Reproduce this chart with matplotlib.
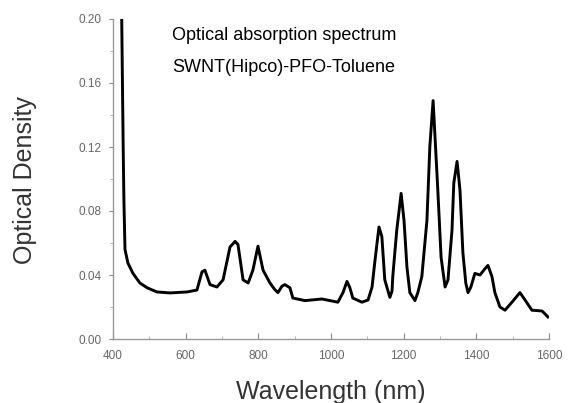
import numpy as np
from matplotlib import pyplot as plt
from matplotlib.ticker import MultipleLocator

plt.rcParams['font.family'] = ['Liberation Sans', 'DejaVu Sans']

# wavelength (nm) and optical density
wavelength = [424, 426, 428, 430, 433, 441, 455, 474, 494, 521, 557, 604, 631,
              645, 653, 667, 686, 703, 722, 736, 744, 758, 772, 785, 799, 813,
              832, 845, 854, 865, 873, 887, 895, 928, 975, 1019, 1033, 1044,
              1052, 1060, 1085, 1102, 1113, 1121, 1132, 1140, 1148, 1162, 1168,
              1170, 1181, 1193, 1201, 1209, 1217, 1231, 1239, 1250, 1264, 1272,
              1281, 1294, 1303, 1314, 1322, 1333, 1338, 1347, 1355, 1363, 1371,
              1377, 1385, 1396, 1410, 1424, 1432, 1443, 1451, 1465, 1479, 1498,
              1520, 1534, 1553, 1581, 1597]
density = [0.200, 0.160, 0.120, 0.087, 0.056, 0.0475, 0.041, 0.035, 0.032,
           0.0294, 0.0288, 0.0294, 0.0306, 0.042, 0.043, 0.034, 0.0325, 0.037,
           0.0575, 0.061, 0.059, 0.037, 0.035, 0.043, 0.058, 0.043, 0.035,
           0.031, 0.029, 0.033, 0.034, 0.032, 0.0256, 0.024, 0.025, 0.023,
           0.029, 0.036, 0.032, 0.0256, 0.023, 0.0244, 0.0325, 0.049, 0.070,
           0.064, 0.037, 0.026, 0.030, 0.039, 0.068, 0.091, 0.074, 0.045,
           0.029, 0.024, 0.029, 0.039, 0.074, 0.120, 0.149, 0.093, 0.051,
           0.0325, 0.037, 0.068, 0.0975, 0.111, 0.093, 0.054, 0.035, 0.029,
           0.0325, 0.041, 0.040, 0.044, 0.046, 0.039, 0.029, 0.020, 0.018,
           0.023, 0.029, 0.0244, 0.018, 0.0175, 0.0138]

x_ticks = [400, 600, 800, 1000, 1200, 1400, 1600]
y_ticks = [0.00, 0.04, 0.08, 0.12, 0.16, 0.20]

fig = plt.figure(figsize=(5.72, 4.03), dpi=100)
ax = fig.add_axes([113 / 572, 64 / 403, 436 / 572, 320 / 403])

ax.plot(wavelength, density, color='black', lw=2.1)

ax.set_xlim(400, 1600)
ax.set_ylim(0, 0.20)
ax.set_xticks(x_ticks)
ax.set_yticks(y_ticks)
ax.set_yticklabels(['{:.2f}'.format(v) for v in y_ticks])
ax.xaxis.set_minor_locator(MultipleLocator(100))
ax.yaxis.set_minor_locator(MultipleLocator(0.02))

for s in ['top', 'right']:
    ax.spines[s].set_visible(False)
for s in ['left', 'bottom']:
    ax.spines[s].set_color('#999999')
    ax.spines[s].set_linewidth(1)

ax.tick_params(axis='x', which='major', direction='in', length=4, color='#888888',
               labelsize=8.5, labelcolor='#666666', pad=8)
ax.tick_params(axis='x', which='minor', direction='in', length=2, color='#aaaaaa')
ax.tick_params(axis='y', which='major', direction='out', length=3, color='#888888',
               labelsize=8.5, labelcolor='#666666', pad=5)
ax.tick_params(axis='y', which='minor', direction='out', length=2, color='#aaaaaa')

ax.set_xlabel('Wavelength (nm)', fontsize=18, color='#333333')
ax.xaxis.set_label_coords(0.5, -0.165)
ax.xaxis.label.set_va('center')
ax.set_ylabel('Optical Density', fontsize=18, color='#333333')
ax.yaxis.set_label_coords(-0.202, 0.497)
ax.yaxis.label.set_va('center')

fig.text(172 / 572, 1 - 35 / 403, 'Optical absorption spectrum', fontsize=13,
         va='center', ha='left')
fig.text(172 / 572, 1 - 67 / 403, 'SWNT(Hipco)-PFO-Toluene', fontsize=13,
         va='center', ha='left')

fig.savefig('out.png', dpi=100)
